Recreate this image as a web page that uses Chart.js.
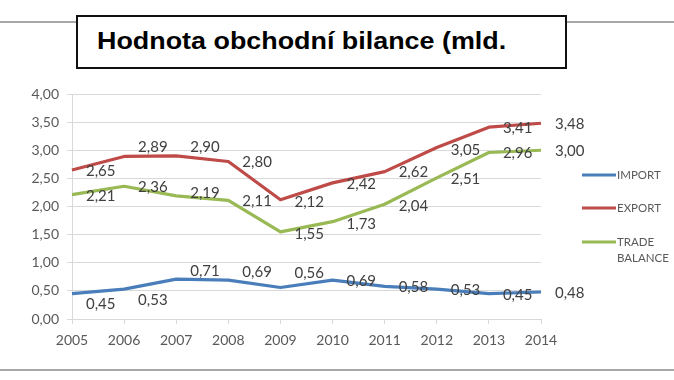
<!DOCTYPE html>
<html>
<head>
<meta charset="utf-8">
<script src="https://cdn.jsdelivr.net/npm/chart.js@4"></script>
<style>
  html, body { margin: 0; padding: 0; background: #fff; }
  #wrap { position: relative; width: 674px; height: 380px; overflow: hidden; }
  #chart { position: absolute; left: 0; top: 0; }
  .hline { position: absolute; left: 0; width: 674px; height: 2px; background: #A8A8A8; }
  #titlebox { position: absolute; left: 76px; top: 15px; width: 487px; height: 50px;
    border: 2px solid #111; background: #fff; }
  #title { position: absolute; left: 19px; top: 10px; white-space: nowrap;
    font-family: "Liberation Sans", Arial, sans-serif; font-weight: bold; font-size: 24px; color: #000;
    transform: scaleX(1.12); transform-origin: left top; }
</style>
</head>
<body>
<div id="wrap">
  <canvas id="chart" width="674" height="380"></canvas>
  <div class="hline" style="top:21px"></div>
  <div class="hline" style="top:369px"></div>
  <div id="titlebox"><div id="title">Hodnota obchodní bilance (mld.</div></div>
</div>
<script>
const years = ['2005','2006','2007','2008','2009','2010','2011','2012','2013','2014'];
const importValues = [0.45, 0.53, 0.71, 0.69, 0.56, 0.69, 0.58, 0.53, 0.45, 0.48];
const exportValues = [2.65, 2.89, 2.90, 2.80, 2.12, 2.42, 2.62, 3.05, 3.41, 3.48];
const balanceValues = [2.21, 2.36, 2.19, 2.11, 1.55, 1.73, 2.04, 2.51, 2.96, 3.00];
const seriesNames = ['IMPORT', 'EXPORT', ['TRADE', 'BALANCE']];
const yTicks = [0, 0.5, 1, 1.5, 2, 2.5, 3, 3.5, 4];

const fmt = v => v.toFixed(2).replace('.', ',');
const FONT = 'Lato, "Open Sans", sans-serif';

const labelPlugin = {
  id: 'pointLabels',
  afterDatasetsDraw(chart) {
    const ctx = chart.ctx;
    ctx.save();
    ctx.font = '15px ' + FONT;
    ctx.fillStyle = '#404040';
    ctx.textAlign = 'left';
    ctx.textBaseline = 'middle';
    chart.data.datasets.forEach((ds, di) => {
      const meta = chart.getDatasetMeta(di);
      meta.data.forEach((pt, i) => {
        const dy = (ds.labelDy && ds.labelDy[i]) || 1;
        ctx.fillText(fmt(ds.data[i]), pt.x + 14, pt.y + dy);
      });
    });
    ctx.restore();
  }
};

const legendPlugin = {
  id: 'customLegend',
  afterDraw(chart) {
    const ctx = chart.ctx;
    ctx.save();
    ctx.font = '11.5px ' + FONT;
    ctx.fillStyle = '#595959';
    ctx.textAlign = 'left';
    ctx.textBaseline = 'middle';
    const ys = [175, 208, 242];
    chart.data.datasets.forEach((ds, di) => {
      const y = ys[di];
      ctx.strokeStyle = ds.borderColor;
      ctx.lineWidth = 3;
      ctx.beginPath();
      ctx.moveTo(582, y);
      ctx.lineTo(616, y);
      ctx.stroke();
      const lines = Array.isArray(seriesNames[di]) ? seriesNames[di] : [seriesNames[di]];
      lines.forEach((t, k) => ctx.fillText(t, 617, y + k * 16));
    });
    ctx.restore();
  }
};

new Chart(document.getElementById('chart'), {
  type: 'line',
  data: {
    labels: years,
    datasets: [
      { label: 'IMPORT', data: importValues, borderColor: '#4A7EBB', borderWidth: 3.2,
        labelDy: [10, 11, -8, -8, -14] },
      { label: 'EXPORT', data: exportValues, borderColor: '#BE4B48', borderWidth: 3.2,
        labelDy: [1, -9, -9, 1, 2, 1, 1, 3] },
      { label: 'TRADE BALANCE', data: balanceValues, borderColor: '#98B954', borderWidth: 3.2,
        labelDy: [1, 1, -3, 1, 2, 2, 2] }
    ]
  },
  options: {
    responsive: false,
    animation: false,
    devicePixelRatio: 1,
    elements: { point: { radius: 0 }, line: { tension: 0, borderCapStyle: 'butt', borderJoinStyle: 'round' } },
    layout: { padding: { left: 0, top: 94, right: 133, bottom: 0 } },
    plugins: { legend: { display: false }, tooltip: { enabled: false }, title: { display: false } },
    scales: {
      x: {
        offset: false,
        grid: { display: true, drawOnChartArea: false, drawTicks: true, tickLength: 5, color: '#D9D9D9' },
        border: { display: true, color: '#D9D9D9', width: 1 },
        ticks: { color: '#595959', font: { family: FONT, size: 14 }, padding: 8, maxRotation: 0, autoSkip: false },
        afterFit: s => { s.height = 61; }
      },
      y: {
        min: 0, max: 4,
        afterBuildTicks: s => { s.ticks = yTicks.map(v => ({ value: v })); },
        grid: { color: '#D9D9D9', lineWidth: 1, tickLength: 5 },
        border: { display: true, color: '#D9D9D9' },
        ticks: { color: '#595959', font: { family: FONT, size: 14 }, padding: 8, callback: v => fmt(v) },
        afterFit: s => { s.width = 72; }
      }
    }
  },
  plugins: [labelPlugin, legendPlugin]
});
</script>
</body>
</html>
